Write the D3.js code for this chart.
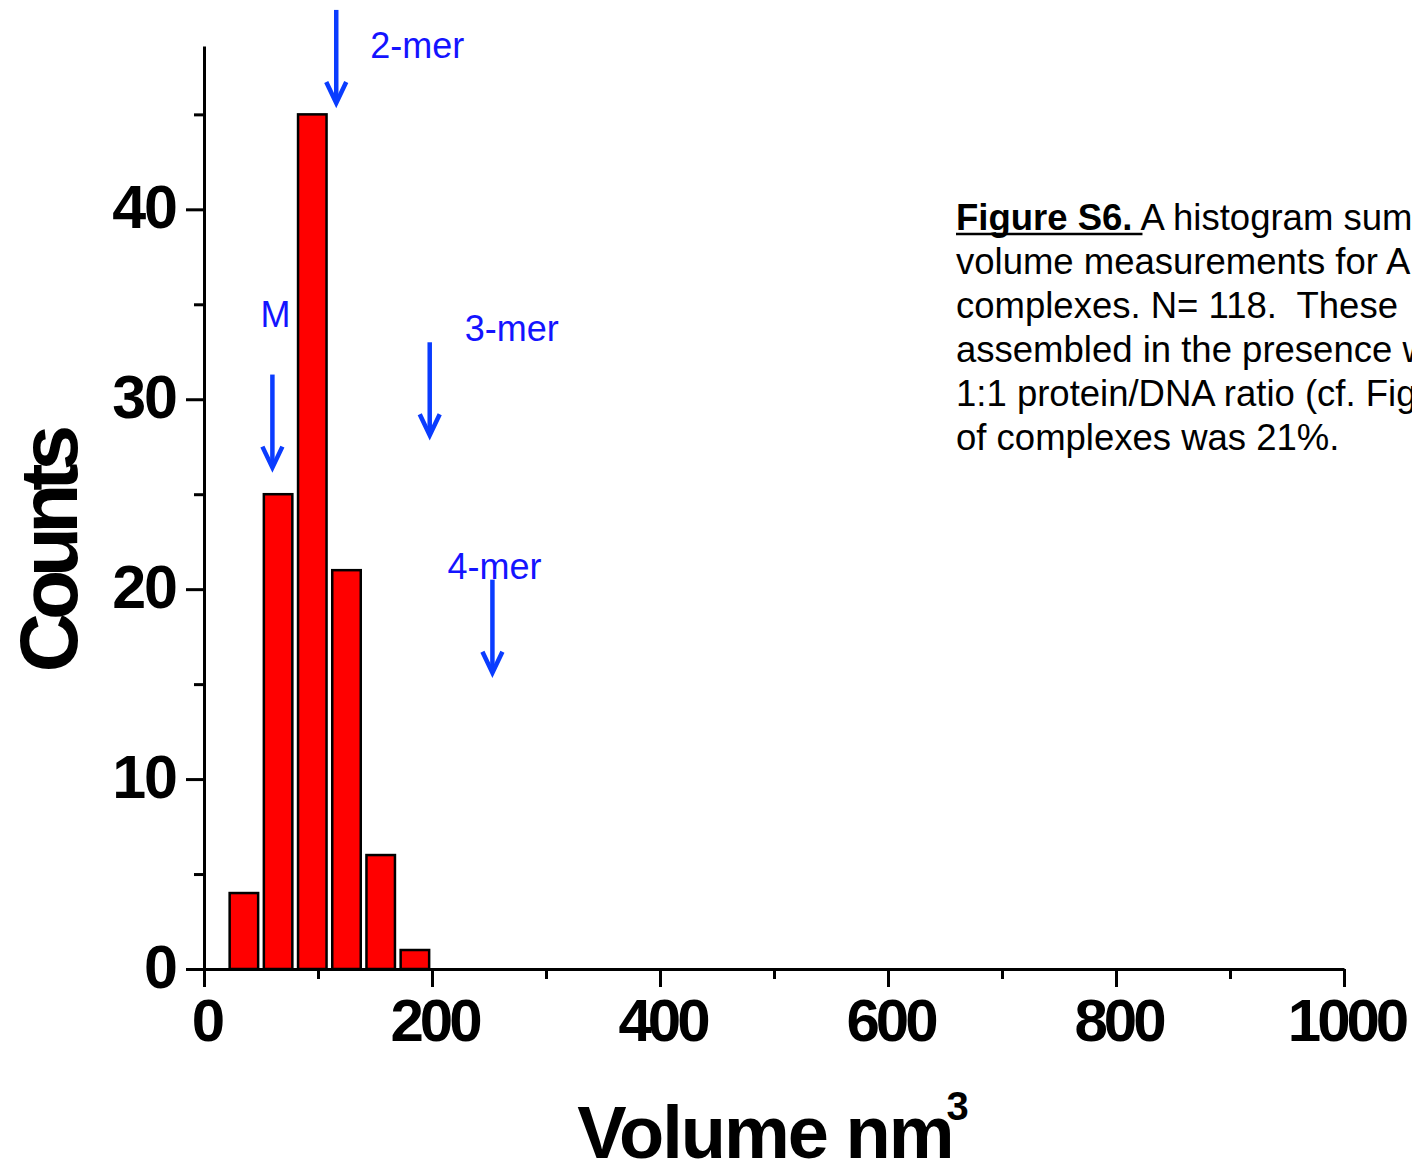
<!DOCTYPE html>
<html>
<head>
<meta charset="utf-8">
<script src="https://cdn.jsdelivr.net/npm/d3@7/dist/d3.min.js"></script>
<style>
  html, body { margin: 0; padding: 0; background: #fff; overflow: hidden; }
  svg { display: block; }
</style>
</head>
<body>
<svg id="chart" width="1412" height="1168"></svg>
<script>
// ---- data ----
const binCenters = [35, 65, 95, 125, 155, 185];   // Volume nm^3 (bin centers, width 30)
const counts     = [4, 25, 45, 21, 6, 1];
const xMajorTicks = [0, 200, 400, 600, 800, 1000];
const xMinorTicks = [100, 300, 500, 700, 900];
const yMajorTicks = [0, 10, 20, 30, 40];
const yMinorTicks = [5, 15, 25, 35, 45];
const markerLabels = ["M", "2-mer", "3-mer", "4-mer"];
const markerX      = [60, 116, 198, 253];      // arrow positions (nm^3)
const markerTipY   = [26.4, 45.6, 28.1, 15.6]; // arrow tip (counts)
const captionLines = [
  "A histogram sum",
  "volume measurements for A",
  "complexes. N= 118.  These",
  "assembled in the presence w",
  "1:1 protein/DNA ratio (cf. Fig",
  "of complexes was 21%."
];

// ---- layout ----
const svg = d3.select("#chart");
const x = d3.scaleLinear().domain([0, 1000]).range([204, 1344]);
const y = d3.scaleLinear().domain([0, 48.6]).range([969, 46]);
const barWidth = 25;
const font = "'Liberation Sans', Arial, Helvetica, sans-serif";

// bars
svg.append("g").selectAll("rect")
  .data(binCenters)
  .join("rect")
  .attr("x", d => x(d - barWidth / 2))
  .attr("width", d => x(d + barWidth / 2) - x(d - barWidth / 2))
  .attr("y", (d, i) => y(counts[i]))
  .attr("height", (d, i) => y(0) - y(counts[i]))
  .attr("fill", "#ff0000")
  .attr("stroke", "#000")
  .attr("stroke-width", 2.5);

// x axis
const xAxis = svg.append("g").attr("transform", `translate(0,${y(0)})`)
  .call(d3.axisBottom(x).tickValues(xMajorTicks).tickSize(18).tickSizeOuter(0).tickPadding(11).tickFormat(d3.format("d")));
xAxis.select(".domain").attr("stroke-width", 3);
xAxis.selectAll(".tick line").attr("stroke-width", 3);
xAxis.selectAll("text")
  .attr("font-family", font).attr("font-weight", "bold").attr("font-size", 60)
  .attr("letter-spacing", "-4px").attr("fill", "#000").attr("dy", "0.71em")
  .attr("dx", "2px");
const xMinor = svg.append("g").attr("transform", `translate(0,${y(0)})`)
  .call(d3.axisBottom(x).tickValues(xMinorTicks).tickSize(10).tickFormat(""));
xMinor.select(".domain").remove();
xMinor.selectAll(".tick line").attr("stroke-width", 3);

// y axis
const yAxis = svg.append("g").attr("transform", `translate(${x(0)},0)`)
  .call(d3.axisLeft(y).tickValues(yMajorTicks).tickSize(18).tickSizeOuter(0).tickPadding(10).tickFormat(d3.format("d")));
yAxis.select(".domain").attr("stroke-width", 3);
yAxis.selectAll(".tick line").attr("stroke-width", 3);
yAxis.selectAll("text")
  .attr("font-family", font).attr("font-weight", "bold").attr("font-size", 61)
  .attr("letter-spacing", "-2px").attr("fill", "#000").attr("dy", "0.3em");
const yMinor = svg.append("g").attr("transform", `translate(${x(0)},0)`)
  .call(d3.axisLeft(y).tickValues(yMinorTicks).tickSize(10).tickFormat(""));
yMinor.select(".domain").remove();
yMinor.selectAll(".tick line").attr("stroke-width", 3);

// axis titles
const xt = svg.append("text")
  .attr("x", 772).attr("y", 1158)
  .attr("text-anchor", "middle")
  .attr("font-family", font).attr("font-weight", "bold").attr("font-size", 74)
  .attr("letter-spacing", "-2px").attr("fill", "#000");
xt.append("tspan").text("Volume nm");
xt.append("tspan").attr("dy", -38).attr("font-size", 40).attr("dx", -6).text("3");

svg.append("text")
  .attr("transform", "translate(77,552) rotate(-90)")
  .attr("text-anchor", "middle")
  .attr("font-family", font).attr("font-weight", "bold").attr("font-size", 82)
  .attr("letter-spacing", "-7px").attr("fill", "#000")
  .text("Counts");

// marker arrows
const arrowLen = 4.9; // counts
const arrowColor = "#0a3cff";
const mg = svg.append("g");
markerLabels.forEach((lab, i) => {
  const ax = x(markerX[i]);
  const tip = y(markerTipY[i]);
  const top = y(markerTipY[i] + arrowLen);
  mg.append("line").attr("x1", ax).attr("x2", ax).attr("y1", top).attr("y2", tip - 2)
    .attr("stroke", arrowColor).attr("stroke-width", 4.5);
  mg.append("path")
    .attr("d", `M${ax - 10},${tip - 21} L${ax},${tip} L${ax + 10},${tip - 21}`)
    .attr("fill", "none").attr("stroke", arrowColor).attr("stroke-width", 4.5)
    .attr("stroke-linejoin", "miter");
});
// marker labels
const labelPos = [
  { dx: -12, dy: -48 },  // M
  { dx: 34,  dy: 48 },   // 2-mer
  { dx: 35,  dy: -1 },   // 3-mer
  { dx: -45, dy: -1 }    // 4-mer
];
markerLabels.forEach((lab, i) => {
  const ax = x(markerX[i]);
  const top = y(markerTipY[i] + arrowLen);
  svg.append("text")
    .attr("x", ax + labelPos[i].dx)
    .attr("y", top + labelPos[i].dy)
    .attr("font-family", font).attr("font-size", 36)
    .attr("fill", "#1414ff")
    .text(lab);
});

// caption
const cap = svg.append("g");
const capX = 956, capY0 = 230, capLH = 44;
captionLines.forEach((line, i) => {
  const t = cap.append("text")
    .attr("x", capX).attr("y", capY0 + i * capLH)
    .attr("font-family", font).attr("font-size", 36.5).attr("fill", "#000")
    .attr("xml:space", "preserve");
  if (i === 0) {
    t.append("tspan").attr("font-weight", "bold").text("Figure S6.");
    t.append("tspan").text(" " + line);
  } else {
    t.text(line);
  }
});
// underline for "Figure S6. "
const firstBold = cap.select("text tspan").node();
const w = firstBold.getComputedTextLength();
cap.append("line")
  .attr("x1", capX).attr("x2", capX + w + 10)
  .attr("y1", capY0 + 4).attr("y2", capY0 + 4)
  .attr("stroke", "#000").attr("stroke-width", 2.5);
</script>
</body>
</html>
